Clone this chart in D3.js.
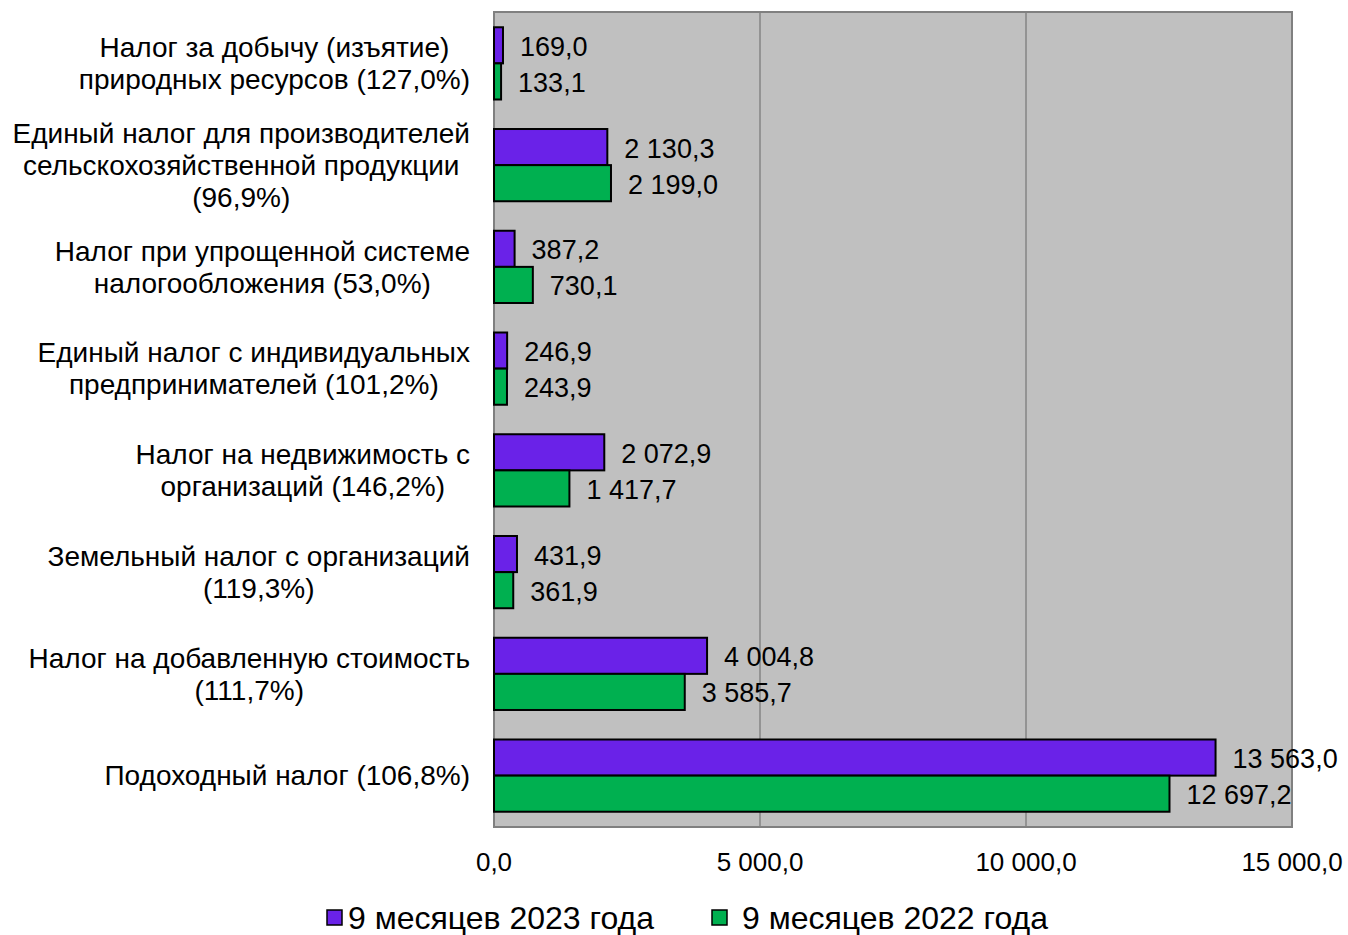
<!DOCTYPE html>
<html>
<head>
<meta charset="utf-8">
<script src="https://cdn.jsdelivr.net/npm/d3@7"></script>
<style>
  body { margin: 0; background: #fff; }
  text { font-family: "Liberation Sans", Arial, sans-serif; fill: #000; }
</style>
</head>
<body>
<svg id="chart"></svg>
<script>
// categories, top to bottom
const categories = [
    ["Налог за добычу (изъятие)", "природных ресурсов (127,0%)"],
    ["Единый налог для производителей", "сельскохозяйственной продукции", "(96,9%)"],
    ["Налог при упрощенной системе", "налогообложения (53,0%)"],
    ["Единый налог с индивидуальных", "предпринимателей (101,2%)"],
    ["Налог на недвижимость с", "организаций (146,2%)"],
    ["Земельный налог с организаций", "(119,3%)"],
    ["Налог на добавленную стоимость", "(111,7%)"],
    ["Подоходный налог (106,8%)"]
];
const series = ["9 месяцев 2023 года", "9 месяцев 2022 года"];
const values2023 = [169.0, 2130.3, 387.2, 246.9, 2072.9, 431.9, 4004.8, 13563.0];
const values2022 = [133.1, 2199.0, 730.1, 243.9, 1417.7, 361.9, 3585.7, 12697.2];
const xTicks = [0, 5000, 10000, 15000];
const colors = ["#6A22E8", "#00B050"];

const width = 1348, height = 935;
const margin = {top: 12, right: 56, bottom: 108, left: 494};
const innerW = width - margin.left - margin.right;
const innerH = height - margin.top - margin.bottom;

const svg = d3.select("#chart").attr("width", width).attr("height", height);
const g = svg.append("g").attr("transform", `translate(${margin.left},${margin.top})`);

const fmt = v => d3.format(",.1f")(v).replace(/,/g, " ").replace(".", ",");

const x = d3.scaleLinear().domain([0, 15000]).range([0, innerW]);
const y0 = d3.scaleBand().domain(d3.range(categories.length)).range([0, innerH]).paddingInner(0.29).paddingOuter(0.15);
const y1 = d3.scaleBand().domain([0, 1]).range([0, y0.bandwidth()]);

// plot background
g.append("rect").attr("width", innerW).attr("height", innerH).attr("fill", "#C0C0C0");

// gridlines
g.selectAll(".grid").data(xTicks.slice(1, -1)).join("line")
    .attr("x1", d => x(d)).attr("x2", d => x(d))
    .attr("y1", 0).attr("y2", innerH)
    .attr("stroke", "#666").attr("stroke-width", 1);

// border
g.append("rect").attr("width", innerW).attr("height", innerH)
    .attr("fill", "none").attr("stroke", "#808080").attr("stroke-width", 2);

const rows = categories.map((c, i) => ({i, vals: [values2023[i], values2022[i]]}));
const grp = g.selectAll(".grp").data(rows).join("g")
    .attr("transform", d => `translate(0,${y0(d.i)})`);

grp.selectAll("rect").data(d => d.vals).join("rect")
    .attr("x", 0)
    .attr("y", (d, j) => y1(j))
    .attr("width", d => x(d))
    .attr("height", y1.bandwidth())
    .attr("fill", (d, j) => colors[j])
    .attr("stroke", "#000").attr("stroke-width", 2);

grp.selectAll("text.val").data(d => d.vals).join("text")
    .attr("class", "val")
    .attr("x", d => x(d) + 17)
    .attr("y", (d, j) => y1(j) + y1.bandwidth() / 2 + 1)
    .attr("dy", "0.35em")
    .attr("font-size", 27)
    .text(d => fmt(d));

// category labels: block right-aligned at plot edge, lines centred within block
const lh = 32;
const labels = svg.append("g");
categories.forEach((lines, i) => {
    const cy = margin.top + y0(i) + y0.bandwidth() / 2;
    const t = labels.append("text").attr("font-size", 28).attr("text-anchor", "middle");
    const spans = lines.map((l, k) => t.append("tspan")
        .attr("x", 0)
        .attr("y", cy + (k - (lines.length - 1) / 2) * lh)
        .attr("dy", "0.35em")
        .text(l));
    const w = d3.max(spans, s => s.node().getComputedTextLength());
    spans.forEach(s => s.attr("x", margin.left - 24 - w / 2));
});

// x axis labels
g.selectAll(".tick").data(xTicks).join("text")
    .attr("x", d => x(d))
    .attr("y", innerH + 35)
    .attr("dy", "0.35em")
    .attr("text-anchor", "middle")
    .attr("font-size", 26)
    .text(d => fmt(d));

// legend
const legendX = [327, 712];
const lg = svg.append("g");
series.forEach((s, j) => {
    lg.append("rect").attr("x", legendX[j]).attr("y", 910)
        .attr("width", 15).attr("height", 15)
        .attr("fill", colors[j]).attr("stroke", "#000").attr("stroke-width", 1.5);
    lg.append("text").attr("x", legendX[j] + (j === 0 ? 21 : 30)).attr("y", 918)
        .attr("dy", "0.35em").attr("font-size", 32)
        .text(s);
});
</script>
</body>
</html>
